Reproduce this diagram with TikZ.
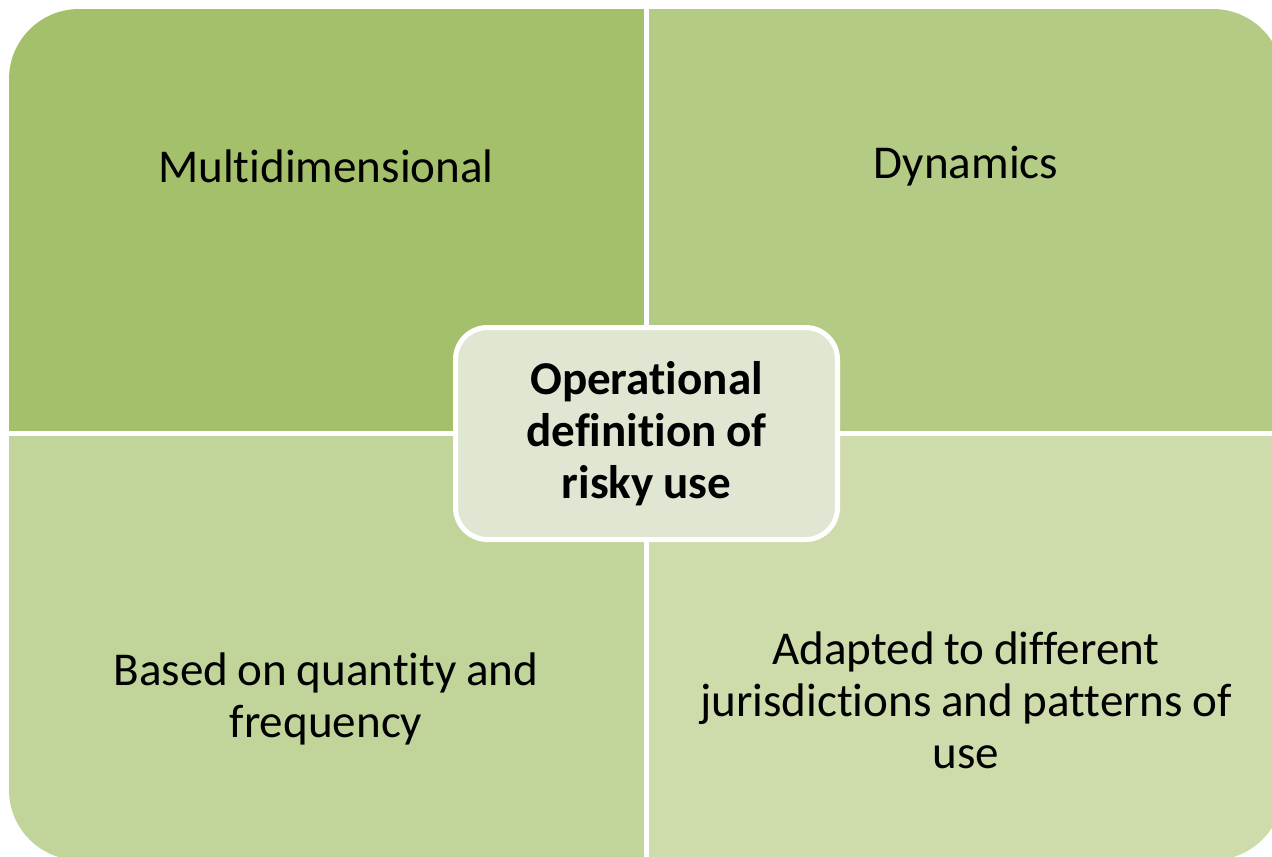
\documentclass[tikz,border=0pt]{standalone}
\usepackage{fontspec}
\setmainfont{Carlito}[Ligatures=NoCommon,WordSpace={0.9,0,0}]
\usepackage{tikz}
\usetikzlibrary{positioning,calc}
\definecolor{quadA}{HTML}{A5C06A}
\definecolor{quadB}{HTML}{B4CB85}
\definecolor{quadC}{HTML}{C1D49A}
\definecolor{quadD}{HTML}{CEDCAC}
\definecolor{corefill}{HTML}{DFE7D2}
\tikzset{
  quadtext/.style={align=center,text=black,font=\fontsize{13.4}{14.8}\selectfont,
    inner sep=0pt},
  corebox/.style={rectangle,rounded corners=0.32cm,draw=white,line width=0.05cm,
    fill=corefill,minimum width=3.82cm,minimum height=2.12cm,align=center,
    font=\fontsize{13.4}{14.8}\selectfont\bfseries,text=black},
  gapline/.style={white,line width=0.05cm},
}
\begin{document}
\begin{tikzpicture}
  \useasboundingbox (0,0) rectangle (12.72,-8.56);
  % four coloured quarters cut from one rounded panel
  \begin{scope}
    \clip[rounded corners=0.7cm] (0.09,-0.09) rectangle (12.83,-8.60);
    \fill[quadA] (0.09,-0.09) rectangle (6.465,-4.335);
    \fill[quadB] (6.465,-0.09) rectangle (12.83,-4.335);
    \fill[quadC] (0.09,-4.335) rectangle (6.465,-8.60);
    \fill[quadD] (6.465,-4.335) rectangle (12.83,-8.60);
  \end{scope}
  \coordinate (gtop) at (6.465,-0.09);
  \coordinate (gbot) at (6.465,-8.60);
  \coordinate (gleft) at (0.09,-4.335);
  \coordinate (gright) at (12.83,-4.335);
  \draw[gapline] (gtop) -- (gbot);
  \draw[gapline] (gleft) -- (gright);
  \node[quadtext] (multi) at (3.26,-1.66) {Multidimensional};
  \node[quadtext] (dyn) at (9.66,-1.66) {Dynamics};
  \node[quadtext] (quant) at (3.26,-6.99) {Based on quantity and\\frequency};
  \node[quadtext] (adapt) at (9.66,-7.00) {Adapted to different\\jurisdictions and patterns of\\use};
  \node[corebox] (core) at (6.465,-4.335) {Operational\\definition of\\risky use};
\end{tikzpicture}
\end{document}
